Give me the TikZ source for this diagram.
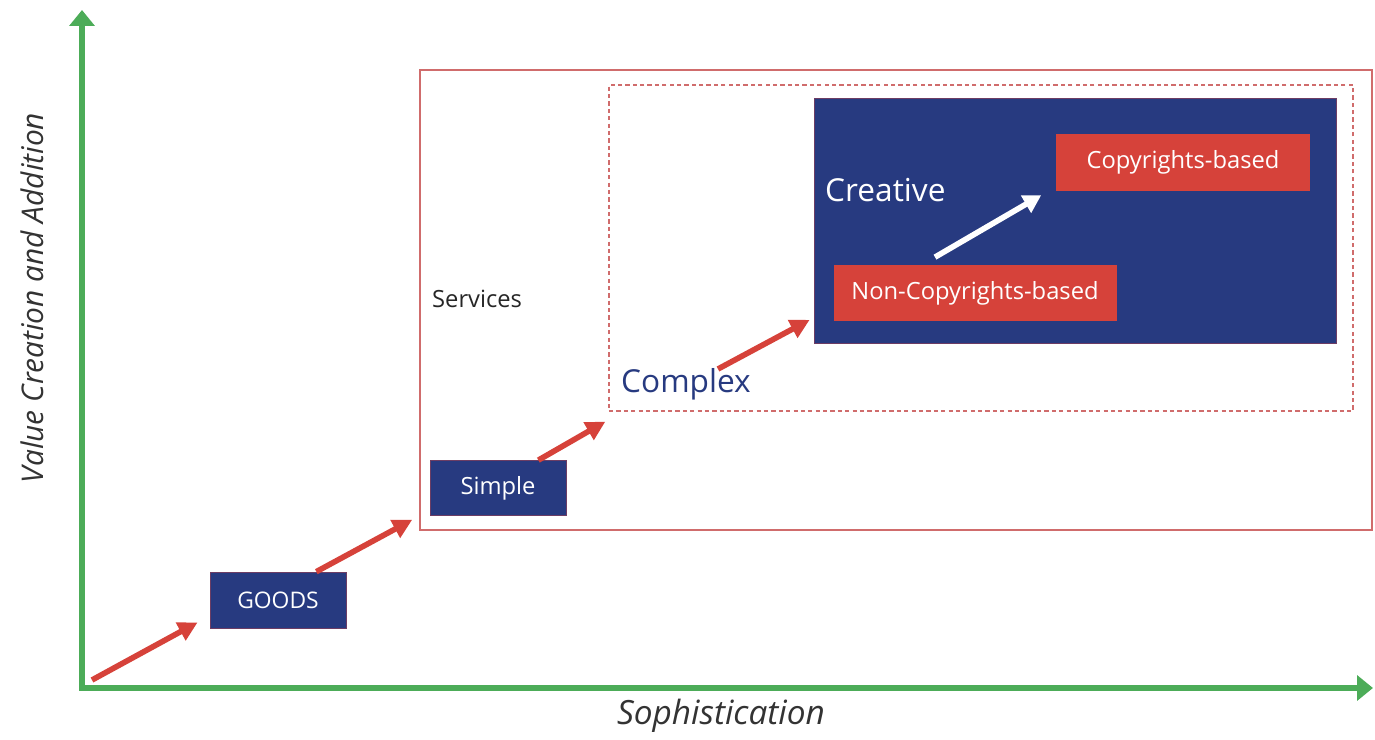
\documentclass[tikz,border=0pt]{standalone}
\usepackage{fontspec}
\setmainfont{Open Sans}
\usetikzlibrary{arrows.meta}
\usetikzlibrary{calc}

\definecolor{navyblue}{RGB}{39,58,128}
\definecolor{boxred}{RGB}{214,66,58}
\definecolor{axisgreen}{RGB}{76,172,88}
\definecolor{framered}{RGB}{208,108,108}

\begin{document}
\begin{tikzpicture}[
		x=0.2mm, y=-0.2mm,
		axis/.style={line width=3.4pt, axisgreen, {Triangle[length=9pt, width=14pt]}-{Triangle[length=9pt, width=14pt]}},
		stepup/.style={line width=3.2pt, boxred, -{Triangle[length=11pt, width=11pt]}},
		navybox/.style={fill=navyblue, draw=boxred!40!navyblue, thin, inner sep=0pt, text=white},
		redbox/.style={fill=boxred, draw=boxred, inner sep=0pt, text=white, font=\fontsize{13.5}{16}\selectfont}
	]
	
	\useasboundingbox (0,0) rectangle (1375,740);
	
	% the axes
	\coordinate (origin) at (82,688);
	\draw[axis] (82,10) -- (origin) -- (1373,688);
	\node[rotate=90, font=\fontsize{17}{20}\selectfont\itshape, text=black!80] (ylabel) at (32,298) {Value Creation and Addition};
	\node[font=\fontsize{19}{22}\selectfont\itshape, text=black!80] (xlabel) at (721,716) {Sophistication};
	
	% goods
	\node[navybox, minimum width=2.72cm, minimum height=1.12cm, font=\fontsize{13}{16}\selectfont] (goods) at (278,600) {GOODS};
	
	% services frame
	\node[draw=framered, line width=0.9pt, minimum width=19.04cm, minimum height=9.2cm, inner sep=0pt] (services) at (896,300) {};
	\node[anchor=west, font=\fontsize{13.5}{16}\selectfont, text=black!85] (servicesText) at (426,299) {Services};
	\node[navybox, minimum width=2.72cm, minimum height=1.1cm, font=\fontsize{13.5}{16}\selectfont] (simple) at (498,488) {Simple};
	
	% complex services
	\node[draw=framered, dashed, dash pattern=on 2.4pt off 1.8pt, line width=0.7pt, minimum width=14.88cm, minimum height=6.52cm, inner sep=0pt] (complex) at (981,248) {};
	\node[anchor=west, font=\fontsize{18}{22}\selectfont, text=navyblue] (complexText) at (615,384) {Complex};
	
	% creative services
	\node[navybox, minimum width=10.44cm, minimum height=4.9cm] (creative) at (1075,221) {};
	\node[anchor=west, font=\fontsize{18}{22}\selectfont, text=white] (creativeText) at (819,190) {Creative};
	\node[redbox, minimum width=5.06cm, minimum height=1.12cm] (copy) at (1183,162) {Copyrights-based};
	\node[redbox, minimum width=5.64cm, minimum height=1.1cm] (noncopy) at (975,293) {Non-Copyrights-based};
	\draw[line width=3.2pt, white, -{Triangle[length=10pt, width=11pt]}] ([shift={(-0.8cm,0.16cm)}]noncopy.north) -- ([shift={(-0.3cm,-0.1cm)}]copy.south west);
	
	% the steps
	\draw[stepup] ([shift={(0.2cm,0.16cm)}]origin) -- ([shift={(-0.24cm,0.12cm)}]goods.south west);
	\draw[stepup] ([xshift=-0.6cm]goods.north east) -- ([shift={(-0.14cm,0.22cm)}]services.south west);
	\draw[stepup] ([xshift=-0.56cm]simple.north east) -- ([shift={(-0.06cm,-0.2cm)}]complex.south west);
	\draw[stepup] ([shift={(2.06cm,0.3cm)}]complexText.west) -- ([shift={(-0.08cm,0.48cm)}]creative.south west);
	
\end{tikzpicture}
\end{document}
